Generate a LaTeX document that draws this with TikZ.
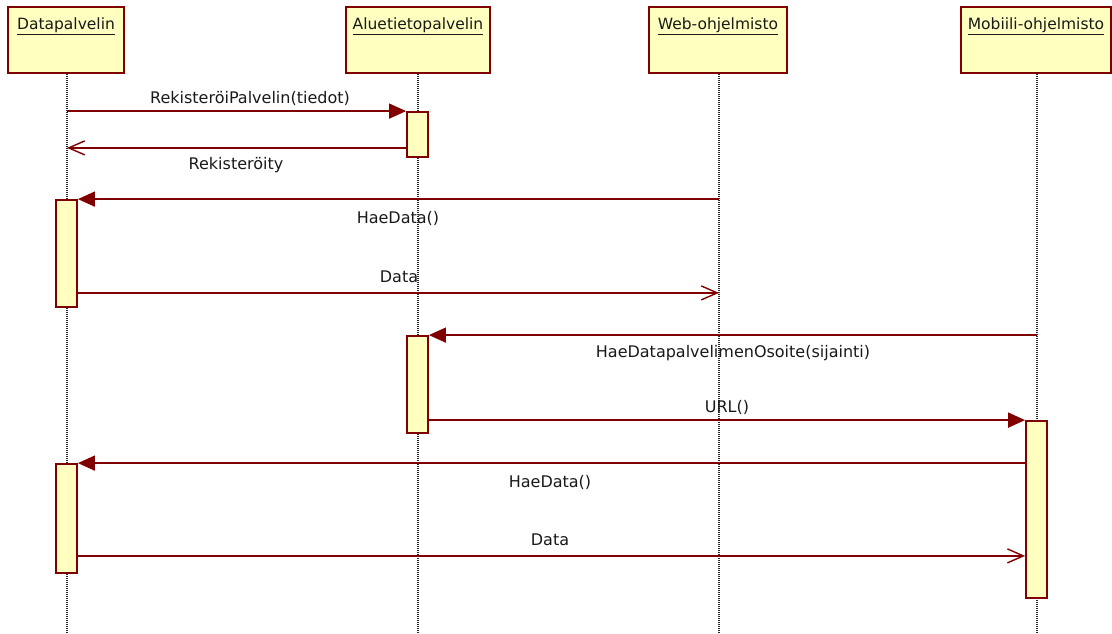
\documentclass[tikz,border=0pt]{standalone}
\usepackage{fontspec}
\setmainfont{DejaVu Sans}
\usetikzlibrary{arrows.meta}
\definecolor{umlred}{RGB}{128,0,0}
\definecolor{umlfill}{RGB}{255,255,192}

\begin{document}
\begin{tikzpicture}[x=1pt,y=-1pt,
  head/.style={draw=umlred, fill=umlfill, line width=1.8pt, inner sep=0pt,
               minimum height=66pt, minimum width=#1},
  headlabel/.style={font=\fontsize{15.5}{18}\selectfont, inner sep=0pt, text=black!90},
  life/.style={draw=black!85, line width=1.3pt, dash pattern=on 1pt off 1pt},
  act/.style={draw=umlred, fill=umlfill, line width=1.8pt, inner sep=0pt,
              minimum width=21pt, minimum height=#1},
  call/.style={draw=umlred, line width=1.6pt, -{Triangle[length=17pt,width=15pt]}},
  reply/.style={draw=umlred, line width=1.6pt, -{Straight Barb[length=16pt,width=14pt,line width=1.4pt]}},
  msglabel/.style={font=\fontsize{16}{19}\selectfont, inner sep=0pt, text=black!90}
]
\useasboundingbox (0,0) rectangle (1112,634);

% object heads
\node[head=116pt] (dp)  at (66,40)  {};
\node[head=144pt] (alu) at (418,40) {};
\node[head=138pt] (web) at (718,40) {};
\node[head=150pt] (mob) at (1036,40) {};
\node[headlabel] at ([yshift=-20pt]dp.north)  {\underline{Datapalvelin}};
\node[headlabel] at ([yshift=-20pt]alu.north) {\underline{Aluetietopalvelin}};
\node[headlabel] at ([yshift=-20pt]web.north) {\underline{Web-ohjelmisto}};
\node[headlabel] at ([yshift=-20pt]mob.north) {\underline{Mobiili-ohjelmisto}};

% lifelines
\coordinate (bottom) at (0,634);
\draw[life] ([xshift=1pt]dp.south) -- ([xshift=1pt]dp.south |- bottom);
\draw[life] (alu.south) -- (alu.south |- bottom);
\draw[life] ([xshift=1pt]web.south) -- ([xshift=1pt]web.south |- bottom);
\draw[life] ([xshift=1pt]mob.south) -- ([xshift=1pt]mob.south |- bottom);

% activation bars
\node[act=45pt]  (a1) at (417.5,134.5) {};
\node[act=107pt] (d1) at (66.5,253.5)  {};
\node[act=97pt]  (a2) at (417.5,384.5) {};
\node[act=177pt] (m1) at (1036.5,509.5) {};
\node[act=109pt] (d2) at (66.5,518.5)  {};

% registration
\draw[call] ([xshift=1pt]dp.south |- a1.north west) -- (a1.north west);
\node[msglabel] at (250,98) {RekisteröiPalvelin(tiedot)};
\coordinate (r2) at ([yshift=10pt]a1.south west);
\draw[reply] (r2) -- ([xshift=1pt]dp.south |- r2);
\node[msglabel] at (236,165) {Rekisteröity};

% web client fetches data
\draw[call] ([xshift=1pt]web.south |- d1.north east) -- (d1.north east);
\node[msglabel] at (398,218) {HaeData()};
\coordinate (r4) at ([yshift=15pt]d1.south east);
\draw[reply] (r4) -- ([xshift=1pt]web.south |- r4);
\node[msglabel] at (399,277) {Data};

% mobile client looks up the data server
\draw[call] ([xshift=1pt]mob.south |- a2.north east) -- (a2.north east);
\node[msglabel] at (733,353) {HaeDatapalvelimenOsoite(sijainti)};
\draw[call] (a2.east |- m1.north west) -- (m1.north west);
\node[msglabel] at (727,407) {URL()};

% mobile client fetches data
\draw[call] (m1.west |- d2.north east) -- (d2.north east);
\node[msglabel] at (550,482) {HaeData()};
\coordinate (r8) at ([yshift=18pt]d2.south east);
\draw[reply] (r8) -- (m1.west |- r8);
\node[msglabel] at (550,540) {Data};
\end{tikzpicture}
\end{document}
